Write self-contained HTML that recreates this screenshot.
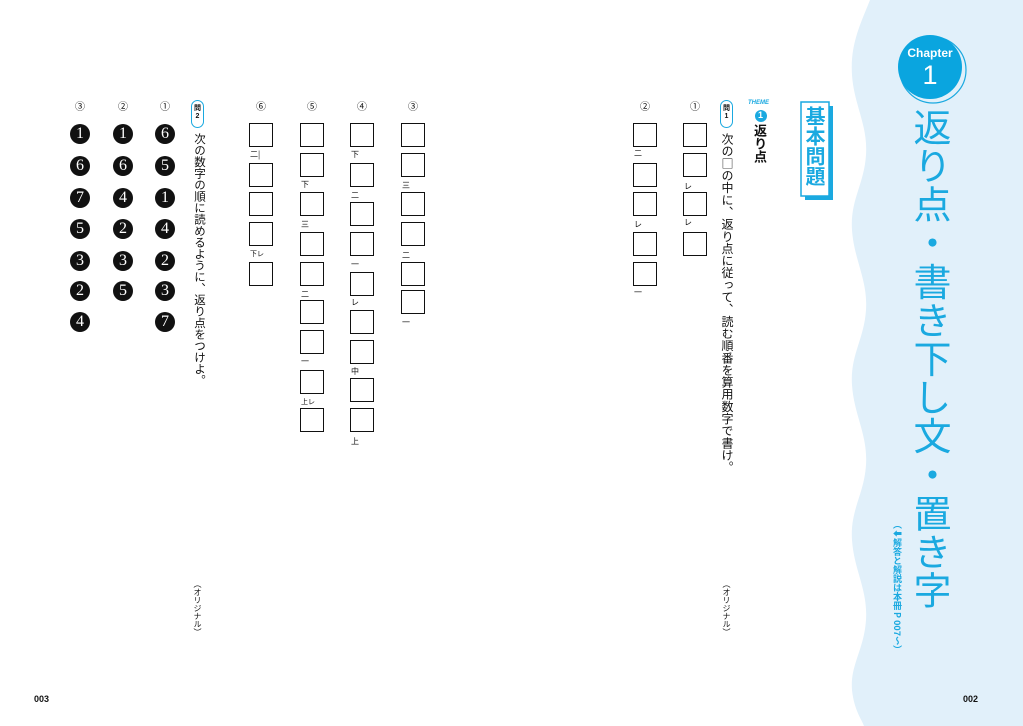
<!DOCTYPE html>
<html><head><meta charset="utf-8"><style>
*{margin:0;padding:0;box-sizing:border-box}
body{width:1023px;height:726px;background:#fff;position:relative;overflow:hidden;font-family:"Liberation Sans","Noto Sans CJK JP",sans-serif;color:#111}
.a{position:absolute}
.v{writing-mode:vertical-rl;position:absolute;white-space:nowrap}
.b{position:absolute;width:24px;height:24px;border:1.5px solid #111;background:#fff}
.l{position:absolute;font-size:8px;line-height:8px;font-family:"Noto Sans CJK JP",sans-serif}
.n{position:absolute;font-size:10px;font-family:"Noto Sans CJK JP",sans-serif;transform:translateX(-50%)}
.c{position:absolute;width:20px;height:20px;border-radius:50%;background:#111;color:#fff;font-family:"Liberation Serif",serif;font-size:16px;line-height:20px;text-align:center;transform:translate(-50%,-50%)}
.badge{position:absolute;width:13px;height:28px;border:1.3px solid #1aa9e0;border-radius:7px;background:#fff;font-size:7px;line-height:8px;text-align:center;padding-top:4px;font-weight:bold}
</style></head><body>
<svg class="a" style="left:0;top:0" width="1023" height="726">
<path d="M870,0 C860,25 850,45 852,75 C854,105 868,125 866,155 C864,185 850,200 852,230 C854,260 868,280 866,310 C864,340 850,355 852,385 C854,415 868,435 866,465 C864,495 850,510 852,540 C854,570 868,590 866,620 C864,650 850,665 852,690 C854,710 862,720 864,726 L1023,726 L1023,0 Z" fill="#e1f0fa"/>
<circle cx="933" cy="70" r="33" fill="none" stroke="#1aa9e0" stroke-width="1.2"/>
<circle cx="930" cy="67" r="32" fill="#0aa5df"/>
<rect x="805" y="106" width="28" height="94" fill="#1aa9e0"/>
<rect x="801" y="102" width="28" height="94" fill="#fff" stroke="#1aa9e0" stroke-width="1.5"/>
<circle cx="761" cy="116" r="6" fill="#1aa9e0"/>
</svg>
<div class="a" style="left:898px;top:46px;width:64px;text-align:center;color:#fff;font-weight:bold;font-size:12px">Chapter</div>
<div class="a" style="left:898px;top:60px;width:64px;text-align:center;color:#fff;font-size:27px;line-height:30px">1</div>
<div class="v" style="left:911px;top:108px;font-size:38px;line-height:42px;letter-spacing:0.6px;color:#1aa9e0;font-family:'Noto Sans CJK JP',sans-serif">返り点・書き下し文・置き字</div>
<div class="v" style="left:892px;top:520px;font-size:9px;line-height:11px;color:#1aa9e0;font-weight:bold;font-family:'Noto Sans CJK JP',sans-serif">（⬇解答と解説は本冊 P 007〜）</div>
<div class="a" style="left:963px;top:694px;font-size:9px;font-weight:bold">002</div>
<div class="a" style="left:34px;top:694px;font-size:9px;font-weight:bold">003</div>
<div class="v" style="left:804px;top:106px;font-size:20px;line-height:22px;color:#1aa9e0;font-weight:bold;font-family:'Noto Sans CJK JP',sans-serif">基本問題</div>
<div class="a" style="left:748px;top:100px;font-size:6px;color:#1aa9e0;font-weight:bold;font-style:italic">THEME</div>
<div class="a" style="left:758px;top:110px;font-size:9px;color:#fff;font-weight:bold">1</div>
<div class="v" style="left:752px;top:124px;font-size:13px;line-height:16px;font-weight:bold;font-family:'Noto Sans CJK JP',sans-serif">返り点</div>
<div class="badge" style="left:720px;top:100px">問<br>1</div>
<div class="v" style="left:720px;top:133px;font-size:12px;line-height:15px;letter-spacing:0.15px;font-family:'Noto Sans CJK JP',sans-serif">次の□の中に、返り点に従って、読む順番を算用数字で書け。</div>
<div class="v" style="left:721px;top:580px;font-size:8px;line-height:10px;font-family:'Noto Sans CJK JP',sans-serif">（オリジナル）</div>
<div class="badge" style="left:191px;top:100px">問<br>2</div>
<div class="v" style="left:192px;top:133px;font-size:11.5px;line-height:15px;font-family:'Noto Sans CJK JP',sans-serif">次の数字の順に読めるように、返り点をつけよ。</div>
<div class="v" style="left:192px;top:580px;font-size:8px;line-height:10px;font-family:'Noto Sans CJK JP',sans-serif">（オリジナル）</div>

<div class="n" style="left:695px;top:98px">①</div>
<div class="b" style="left:683px;top:123px"></div><div class="b" style="left:683px;top:153px"></div>
<div class="l" style="left:684px;top:183px">レ</div>
<div class="b" style="left:683px;top:192px"></div>
<div class="l" style="left:684px;top:219px">レ</div>
<div class="b" style="left:683px;top:232px"></div>

<div class="n" style="left:645px;top:98px">②</div>
<div class="b" style="left:633px;top:123px"></div>
<div class="l" style="left:634px;top:150px">二</div>
<div class="b" style="left:633px;top:163px"></div><div class="b" style="left:633px;top:192px"></div>
<div class="l" style="left:634px;top:221px">レ</div>
<div class="b" style="left:633px;top:232px"></div><div class="b" style="left:633px;top:262px"></div>
<div class="l" style="left:634px;top:289px">一</div>

<div class="n" style="left:413px;top:98px">③</div>
<div class="b" style="left:401px;top:123px"></div><div class="b" style="left:401px;top:153px"></div>
<div class="l" style="left:402px;top:182px">三</div>
<div class="b" style="left:401px;top:192px"></div><div class="b" style="left:401px;top:222px"></div>
<div class="l" style="left:402px;top:252px">二</div>
<div class="b" style="left:401px;top:262px"></div><div class="b" style="left:401px;top:290px"></div>
<div class="l" style="left:402px;top:319px">一</div>

<div class="n" style="left:362px;top:98px">④</div>
<div class="b" style="left:350px;top:123px"></div>
<div class="l" style="left:351px;top:151px">下</div>
<div class="b" style="left:350px;top:163px"></div>
<div class="l" style="left:351px;top:192px">二</div>
<div class="b" style="left:350px;top:202px"></div><div class="b" style="left:350px;top:232px"></div>
<div class="l" style="left:351px;top:261px">一</div>
<div class="b" style="left:350px;top:272px"></div>
<div class="l" style="left:351px;top:299px">レ</div>
<div class="b" style="left:350px;top:310px"></div><div class="b" style="left:350px;top:340px"></div>
<div class="l" style="left:351px;top:368px">中</div>
<div class="b" style="left:350px;top:378px"></div><div class="b" style="left:350px;top:408px"></div>
<div class="l" style="left:351px;top:438px">上</div>

<div class="n" style="left:312px;top:98px">⑤</div>
<div class="b" style="left:300px;top:123px"></div><div class="b" style="left:300px;top:153px"></div>
<div class="l" style="left:301px;top:181px">下</div>
<div class="b" style="left:300px;top:192px"></div>
<div class="l" style="left:301px;top:221px">三</div>
<div class="b" style="left:300px;top:232px"></div><div class="b" style="left:300px;top:262px"></div>
<div class="l" style="left:301px;top:291px">二</div>
<div class="b" style="left:300px;top:300px"></div><div class="b" style="left:300px;top:330px"></div>
<div class="l" style="left:301px;top:358px">一</div>
<div class="b" style="left:300px;top:370px"></div>
<div class="l" style="left:301px;top:398px;font-size:7px">上レ</div>
<div class="b" style="left:300px;top:408px"></div>

<div class="n" style="left:261px;top:98px">⑥</div>
<div class="b" style="left:249px;top:123px"></div>
<div class="l" style="left:250px;top:151px">二|</div>
<div class="b" style="left:249px;top:163px"></div><div class="b" style="left:249px;top:192px"></div><div class="b" style="left:249px;top:222px"></div>
<div class="l" style="left:250px;top:250px;font-size:7px">下レ</div>
<div class="b" style="left:249px;top:262px"></div>

<div class="n" style="left:165px;top:98px">①</div>
<div class="n" style="left:123px;top:98px">②</div>
<div class="n" style="left:80px;top:98px">③</div>
<div class="c" style="left:165px;top:134px">6</div><div class="c" style="left:165px;top:166px">5</div><div class="c" style="left:165px;top:198px">1</div><div class="c" style="left:165px;top:229px">4</div><div class="c" style="left:165px;top:261px">2</div><div class="c" style="left:165px;top:291px">3</div><div class="c" style="left:165px;top:322px">7</div>
<div class="c" style="left:123px;top:134px">1</div><div class="c" style="left:123px;top:166px">6</div><div class="c" style="left:123px;top:198px">4</div><div class="c" style="left:123px;top:229px">2</div><div class="c" style="left:123px;top:261px">3</div><div class="c" style="left:123px;top:291px">5</div>
<div class="c" style="left:80px;top:134px">1</div><div class="c" style="left:80px;top:166px">6</div><div class="c" style="left:80px;top:198px">7</div><div class="c" style="left:80px;top:229px">5</div><div class="c" style="left:80px;top:261px">3</div><div class="c" style="left:80px;top:291px">2</div><div class="c" style="left:80px;top:322px">4</div>
</body></html>
